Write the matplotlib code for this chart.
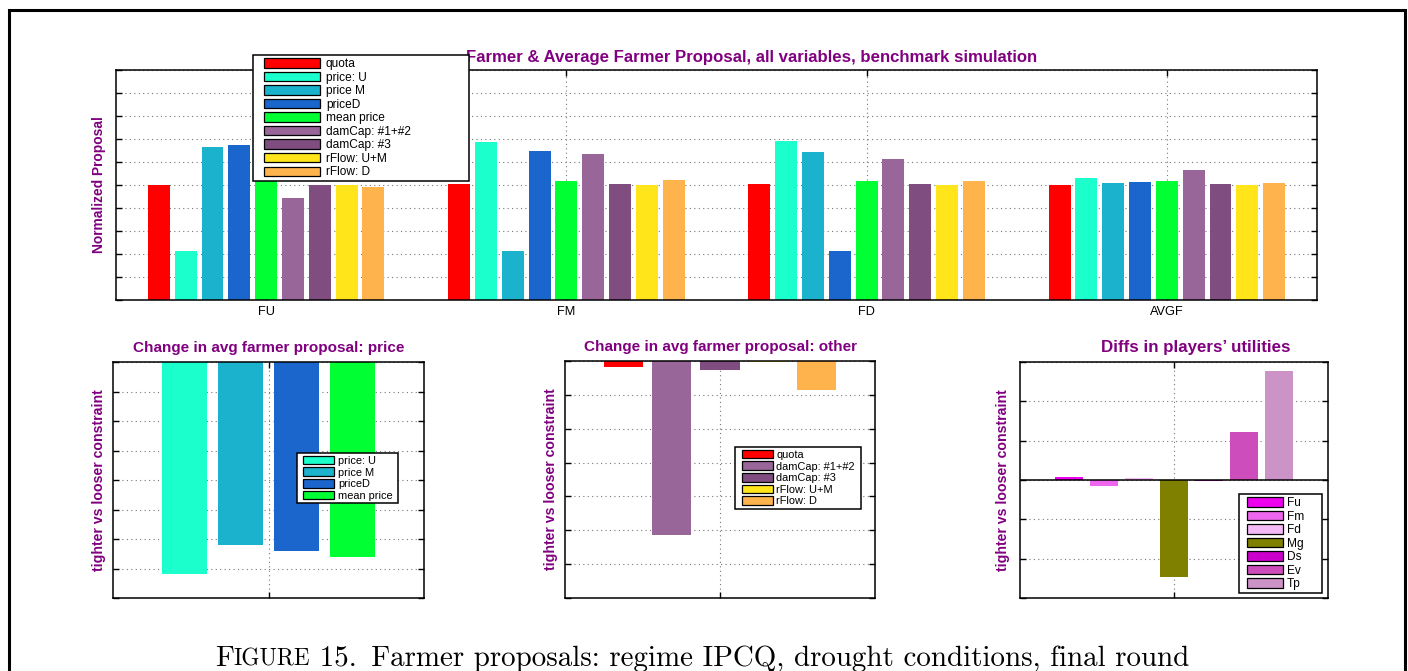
import matplotlib
matplotlib.use('Agg')
import matplotlib.pyplot as plt
from matplotlib.patches import Patch, Rectangle
from matplotlib.legend_handler import HandlerPatch
import numpy as np

plt.rcParams['font.family'] = ['Liberation Sans', 'DejaVu Sans']

PURPLE = '#800080'

# variables shown in the grouped bar chart
variables = ['quota', 'price: U', 'price M', 'priceD', 'mean price',
             'damCap: #1+#2', 'damCap: #3', 'rFlow: U+M', 'rFlow: D']
var_colors = ['#ff0000', '#1affcc', '#1ab2cc', '#1a66cc', '#00ff33',
              '#996699', '#804d80', '#ffe51a', '#ffb34d']
groups = ['FU', 'FM', 'FD', 'AVGF']

# normalized proposals per farmer
fu_vals = [1.00, 0.43, 1.33, 1.35, 1.035, 0.89, 1.00, 1.00, 0.985]
fm_vals = [1.01, 1.375, 0.43, 1.295, 1.035, 1.27, 1.01, 1.00, 1.045]
fd_vals = [1.01, 1.385, 1.29, 0.43, 1.035, 1.225, 1.01, 1.00, 1.035]
avgf_vals = [1.00, 1.06, 1.015, 1.025, 1.035, 1.13, 1.01, 1.00, 1.015]

# change in average farmer proposal: prices
price_vars = ['price: U', 'price M', 'priceD', 'mean price']
price_colors = ['#1affcc', '#1ab2cc', '#1a66cc', '#00ff33']
price_change = [-7.2, -6.22, -6.39, -6.6]

# change in average farmer proposal: other variables
other_vars = ['quota', 'damCap: #1+#2', 'damCap: #3', 'rFlow: U+M', 'rFlow: D']
other_colors = ['#ff0000', '#996699', '#804d80', '#ffe51a', '#ffb34d']
other_change = [-0.17, -5.15, -0.26, -0.03, -0.85]

# differences in players' utilities
players = ['Fu', 'Fm', 'Fd', 'Mg', 'Ds', 'Ev', 'Tp']
player_colors = ['#ee00ee', '#ee66ee', '#f5b9f5', '#808000',
                 '#cc00cc', '#cc4dbb', '#cc94c6']
utility_diff = [0.07, -0.16, 0.04, -2.46, -0.03, 1.23, 2.77]

W, H = 1408, 671
fig = plt.figure(figsize=(W / 100, H / 100), dpi=100)


def px_axes(x0, y0, x1, y1):
    return fig.add_axes([x0 / W, 1 - y1 / H, (x1 - x0) / W, (y1 - y0) / H])


def style_axes(ax):
    ax.set_axisbelow(True)
    ax.grid(True, linestyle=(0, (1, 3)), color='#777777', linewidth=0.8)
    ax.tick_params(direction='in', top=True, right=True, length=4,
                   width=1, labelleft=False)
    for s in ax.spines.values():
        s.set_linewidth(1.1)


def indented(pad_px):
    # legend swatch shifted right inside its handle box
    def make(legend, orig_handle, xdescent, ydescent, width, height, fontsize):
        return Rectangle((-xdescent + pad_px * 0.72, -ydescent),
                         width - pad_px * 0.72, height)
    return HandlerPatch(patch_func=make)


def px_legend(ax, handles, labels, x0, y0, x1, y1, fs, hl, pad_px, tp=0.45):
    bb = (x0 / W, 1 - y1 / H, (x1 - x0) / W, (y1 - y0) / H)
    leg = ax.legend(handles, labels, loc='upper left', bbox_to_anchor=bb,
                    bbox_transform=fig.transFigure, mode='expand',
                    borderaxespad=0, fontsize=fs, fancybox=False,
                    framealpha=1, edgecolor='black', handlelength=hl,
                    handleheight=0.85, handletextpad=tp, labelspacing=0.13,
                    borderpad=0.25,
                    handler_map={Patch: indented(pad_px)})
    leg.get_frame().set_linewidth(1.1)
    leg.set_zorder(10)
    return leg


def patches(colors):
    return [Patch(facecolor=c, edgecolor='black', linewidth=0.9) for c in colors]


# top grouped chart
ax = px_axes(116, 70, 1317, 300)
style_axes(ax)
all_vals = np.array([fu_vals, fm_vals, fd_vals, avgf_vals])
step, width = 0.0893, 0.073
for i, (name, col) in enumerate(zip(variables, var_colors)):
    xs = np.arange(1, len(groups) + 1) + (i - 4) * step
    ax.bar(xs, all_vals[:, i], width=width, color=col, linewidth=0)
ax.set_xlim(0.5, 4.5)
ax.set_ylim(0, 2)
ax.set_yticks(np.arange(0, 2.01, 0.2))
ax.set_xticks(range(1, len(groups) + 1))
ax.set_xticklabels(groups, fontsize=9.2)
ax.tick_params(axis='x', pad=4.5)
ax.set_title('Farmer & Average Farmer Proposal, all variables, benchmark simulation',
             fontsize=12.1, fontweight='bold', color=PURPLE, pad=5.5,
             x=(752 - 116) / 1201)
ax.set_ylabel('Normalized Proposal', fontsize=9.9, fontweight='bold',
              color=PURPLE, labelpad=7)
px_legend(ax, patches(var_colors), variables, 253, 55, 469, 178, 8.6, 5.4, 8)

# price changes
ax1 = px_axes(113, 362, 424, 598)
style_axes(ax1)
for i, (v, c) in enumerate(zip(price_change, price_colors)):
    ax1.bar(1 + (i - 1.5) * 0.18, v, width=0.147, color=c, linewidth=0)
ax1.set_xlim(0.5, 1.5)
ax1.set_ylim(-8, 0)
ax1.set_yticks(range(-8, 1))
ax1.set_xticks([1])
ax1.tick_params(labelbottom=False)
ax1.set_title('Change in avg farmer proposal: price', fontsize=11,
              fontweight='bold', color=PURPLE, pad=7)
ax1.set_ylabel('tighter vs looser constraint', fontsize=10.2, fontweight='bold',
               color=PURPLE, labelpad=5)
px_legend(ax1, patches(price_colors), price_vars, 297, 453, 398, 506,
          7.9, 3.15, 3, 0.35)

# other changes
ax2 = px_axes(565, 361, 875, 598)
style_axes(ax2)
for i, (v, c) in enumerate(zip(other_change, other_colors)):
    ax2.bar(1 + (i - 2) * 0.155, v, width=0.126, color=c, linewidth=0)
ax2.set_xlim(0.5, 1.5)
ax2.set_ylim(-7, 0)
ax2.set_yticks(range(-7, 1))
ax2.set_xticks([1])
ax2.tick_params(labelbottom=False)
ax2.set_title('Change in avg farmer proposal: other', fontsize=11,
              fontweight='bold', color=PURPLE, pad=7)
ax2.set_ylabel('tighter vs looser constraint', fontsize=10.2, fontweight='bold',
               color=PURPLE, labelpad=5)
px_legend(ax2, patches(other_colors), other_vars, 735, 447, 861, 513,
          7.9, 3.2, 4, 0.3)

# utility differences
ax3 = px_axes(1020, 362, 1328, 598)
style_axes(ax3)
for i, (v, c) in enumerate(zip(utility_diff, player_colors)):
    ax3.bar(1 + (i - 3) * 0.1136, v, width=0.093, color=c, linewidth=0)
ax3.axhline(0, color='black', linewidth=1.1, zorder=3)
ax3.set_xlim(0.5, 1.5)
ax3.set_ylim(-3, 3)
ax3.set_yticks(range(-3, 4))
ax3.set_xticks([1])
ax3.tick_params(labelbottom=False)
ax3.set_title("Diffs in players\u2019 utilities", fontsize=12.2,
              fontweight='bold', color=PURPLE, pad=7, x=(1195.5 - 1020) / 308)
ax3.set_ylabel('tighter vs looser constraint', fontsize=10.2, fontweight='bold',
               color=PURPLE, labelpad=7)
px_legend(ax3, patches(player_colors), players, 1239, 494, 1322, 584,
          8.6, 3.4, 5, 0.35)

# page frame
fig.patches.append(Rectangle((9 / W, -0.1), (1405 - 9) / W, 1.1 - 10 / H,
                             transform=fig.transFigure, fill=False,
                             edgecolor='black', linewidth=2.2))

# caption with small caps "Figure"
renderer = fig.canvas.get_renderer()
x = 215 / W
y = 1 - 666 / H
pieces = [('F', 20.9), ('IGURE', 16.7), (' 15.\u2002Farmer proposals: regime IPCQ, '
          'drought conditions, final round', 20.9)]
for txt, fs in pieces:
    t = fig.text(x, y, txt, fontsize=fs, family=['cmr10', 'DejaVu Serif'],
                 va='baseline', ha='left')
    bb = t.get_window_extent(renderer)
    x += bb.width / W

fig.savefig('out.png', dpi=100)
